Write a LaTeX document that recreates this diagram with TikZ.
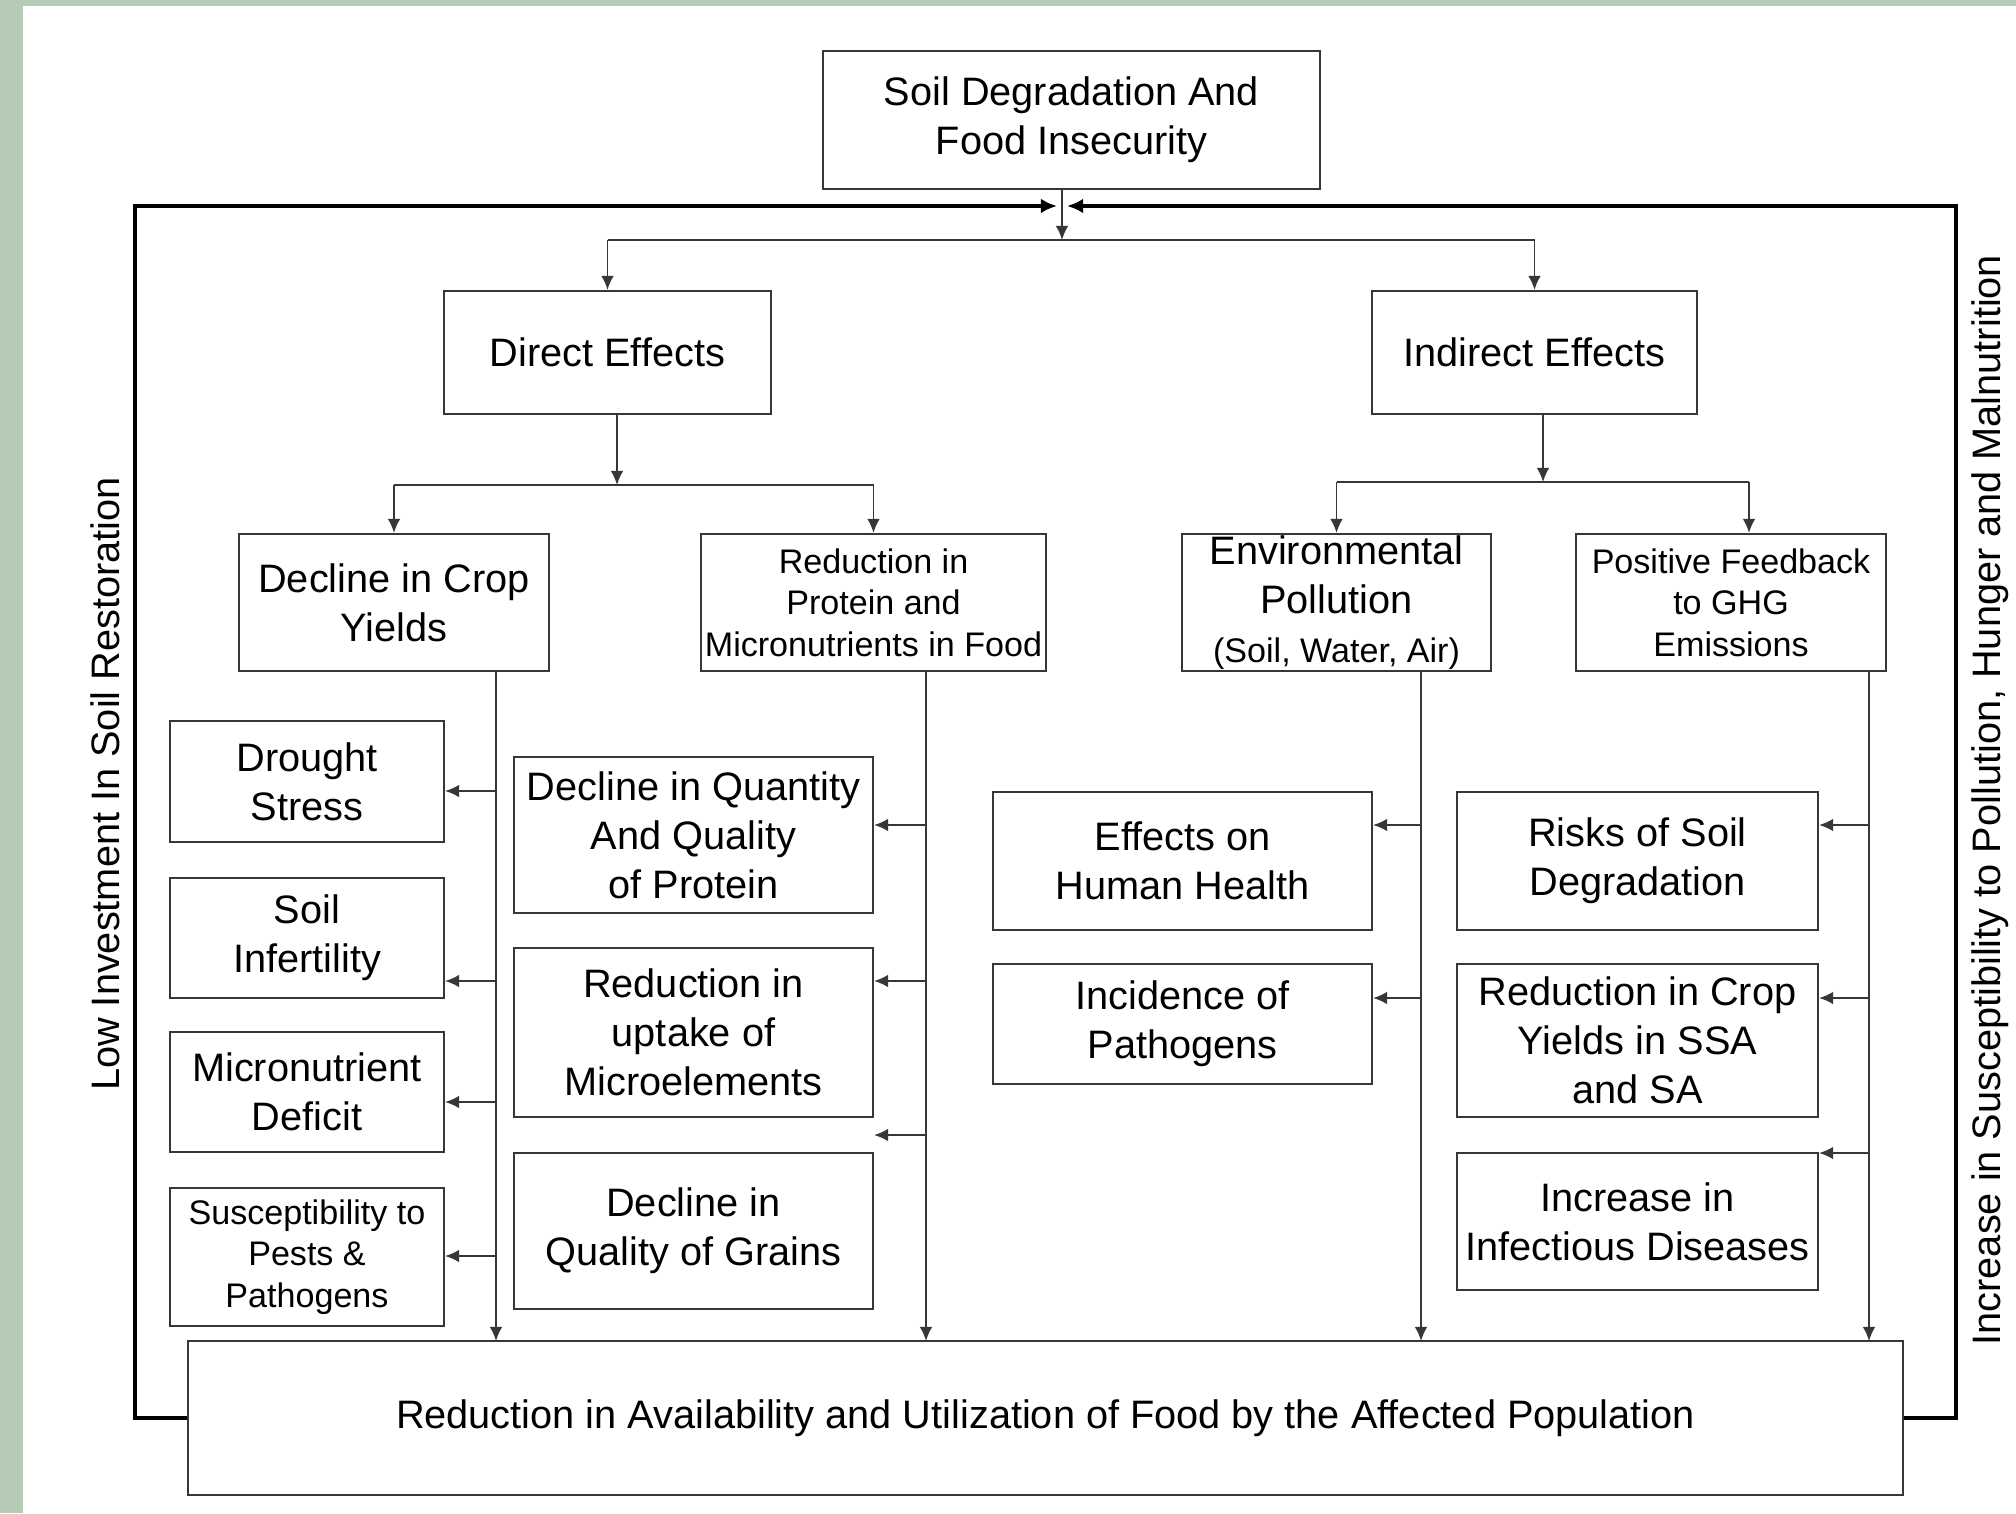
\documentclass[tikz,border=0pt]{standalone}
\usepackage{fontspec}
\setmainfont{Liberation Sans}
\usetikzlibrary{arrows.meta}
\definecolor{bggreen}{RGB}{182,203,181}
\definecolor{linegray}{RGB}{55,55,55}
\newcommand\boxfont{\fontsize{11.3}{13.9}\selectfont}
\newcommand\smallboxfont{\fontsize{9.7}{11.8}\selectfont}

\begin{document}
\begin{tikzpicture}[
    box/.style={draw=linegray, line width=0.6pt, align=center, inner sep=1pt, font=\boxfont},
    lbox/.style={box, minimum width=2.74cm},
    pbox/.style={box, minimum width=3.59cm},
    ebox/.style={box, minimum width=3.79cm},
    gbox/.style={box, minimum width=3.61cm},
    line/.style={draw=linegray, line width=0.55pt},
    arr/.style={line, -{Latex[length=4pt,width=3.6pt]}},
    frame/.style={line width=1.4pt, -{Latex[length=4.6pt,width=4.2pt]}}
  ]
    % page
    \useasboundingbox (0,0) rectangle (20.16,-15.13);
    \fill [white] (0,0) rectangle (20.16,-15.13);
    \fill [bggreen] (0,0) rectangle (0.23,-15.13);
    \fill [bggreen] (0,0) rectangle (20.16,-0.06);

    % top levels
    \node [box, minimum width=4.97cm, minimum height=1.38cm] (top) at (10.715,-1.20) {Soil Degradation And\\Food Insecurity};
    \node [box, minimum width=3.27cm, minimum height=1.23cm] (direct) at (6.075,-3.525) {Direct Effects};
    \node [box, minimum width=3.25cm, minimum height=1.23cm] (indirect) at (15.345,-3.525) {Indirect Effects};
    \node [box, minimum width=3.10cm, minimum height=1.37cm] (crop) at (3.94,-6.025) {Decline in Crop\\Yields};
    \node [box, font=\smallboxfont, minimum width=3.43cm, minimum height=1.37cm] (protein) at (8.735,-6.025) {Reduction in\\Protein and\\Micronutrients in Food};
    \node [box, inner sep=0pt, minimum width=3.09cm, minimum height=1.37cm] (env) at (13.365,-6.025) {Environmental\\Pollution\\{\smallboxfont (Soil, Water, Air)}};
    \node [box, font=\smallboxfont, minimum width=3.10cm, minimum height=1.37cm] (ghg) at (17.31,-6.025) {Positive Feedback\\to GHG\\Emissions};

    % effects
    \node [lbox, minimum height=1.21cm] (drought) at (3.07,-7.815) {Drought\\Stress};
    \node [lbox, minimum height=1.20cm] (infert) at (3.07,-9.38) {Soil\\Infertility};
    \node [lbox, minimum height=1.20cm] (micro) at (3.07,-10.92) {Micronutrient\\Deficit};
    \node [lbox, font=\smallboxfont, minimum height=1.38cm] (pests) at (3.07,-12.57) {Susceptibility to\\Pests \&\\Pathogens};
    \node [pbox, minimum height=1.56cm] (quant) at (6.935,-8.35) {Decline in Quantity\\And Quality\\of Protein};
    \node [pbox, minimum height=1.69cm] (uptake) at (6.935,-10.325) {Reduction in\\uptake of\\Microelements};
    \node [pbox, minimum height=1.56cm] (grains) at (6.935,-12.31) {Decline in\\Quality of Grains};
    \node [ebox, minimum height=1.38cm] (health) at (11.825,-8.61) {Effects on\\Human Health};
    \node [ebox, minimum height=1.20cm] (incid) at (11.825,-10.24) {Incidence of\\Pathogens};
    \node [gbox, minimum height=1.38cm] (risks) at (16.375,-8.61) {Risks of Soil\\Degradation};
    \node [gbox, minimum height=1.53cm] (ssa) at (16.375,-10.405) {Reduction in Crop\\Yields in SSA\\and SA};
    \node [gbox, minimum height=1.37cm] (infect) at (16.375,-12.215) {Increase in\\Infectious Diseases};

    \node [box, minimum width=17.15cm, minimum height=1.54cm] (bottom) at (10.455,-14.18) {Reduction in Availability and Utilization of Food by the Affected Population};

    % side labels
    \node [font=\boxfont, rotate=90] (lowinv) at (1.05,-7.84) {Low Investment In Soil Restoration};
    \node [font=\boxfont, rotate=90] (suscept) at (19.90,-8.00) {Increase in Susceptibility to Pollution, Hunger and Malnutrition};

    % splits
    \coordinate (hub) at (10.62,-2.06);
    \coordinate (s0) at (10.62,-2.40);
    \draw [arr] (top.south -| s0) -- (s0);
    \draw [line] (s0 -| direct.north) -- (s0 -| indirect.north);
    \draw [arr] (s0 -| direct.north) -- (direct.north);
    \draw [arr] (s0 -| indirect.north) -- (indirect.north);

    \coordinate (s1) at (6.17,-4.85);
    \draw [arr] (direct.south -| s1) -- (s1);
    \draw [line] (s1 -| crop.north) -- (s1 -| protein.north);
    \draw [arr] (s1 -| crop.north) -- (crop.north);
    \draw [arr] (s1 -| protein.north) -- (protein.north);

    \coordinate (s2) at (15.43,-4.82);
    \coordinate (ghgin) at ([xshift=0.18cm]ghg.north);
    \draw [arr] (indirect.south -| s2) -- (s2);
    \draw [line] (s2 -| env.north) -- (s2 -| ghgin);
    \draw [arr] (s2 -| env.north) -- (env.north);
    \draw [arr] (s2 -| ghgin) -- (ghgin);

    % trunks down to the bottom box
    \coordinate (tcrop) at (4.96,-13.41);
    \coordinate (tprotein) at (9.26,-13.41);
    \coordinate (tenv) at (14.21,-13.41);
    \coordinate (tghg) at (18.69,-13.41);
    \foreach \n in {crop, protein, env, ghg}
        \draw [arr] (\n.south -| t\n) -- (t\n);

    % branches
    \foreach \n/\t/\y in {drought/crop/7.91, infert/crop/9.81, micro/crop/11.02, pests/crop/12.56,
                          quant/protein/8.25, uptake/protein/9.81,
                          health/env/8.25, incid/env/9.98,
                          risks/ghg/8.25, ssa/ghg/9.98, infect/ghg/11.53}
        \draw [arr] (t\t |- 0,-\y) -- (\n.east |- 0,-\y);
    \draw [arr] (tprotein |- 0,-11.35) -- (uptake.east |- 0,-11.35);

    % feedback frame
    \draw [frame] (bottom.west) -| (1.35,-2.06) -- ([xshift=-0.05cm]hub);
    \draw [frame] (bottom.east) -| (19.56,-2.06) -- ([xshift=0.05cm]hub);
\end{tikzpicture}
\end{document}
